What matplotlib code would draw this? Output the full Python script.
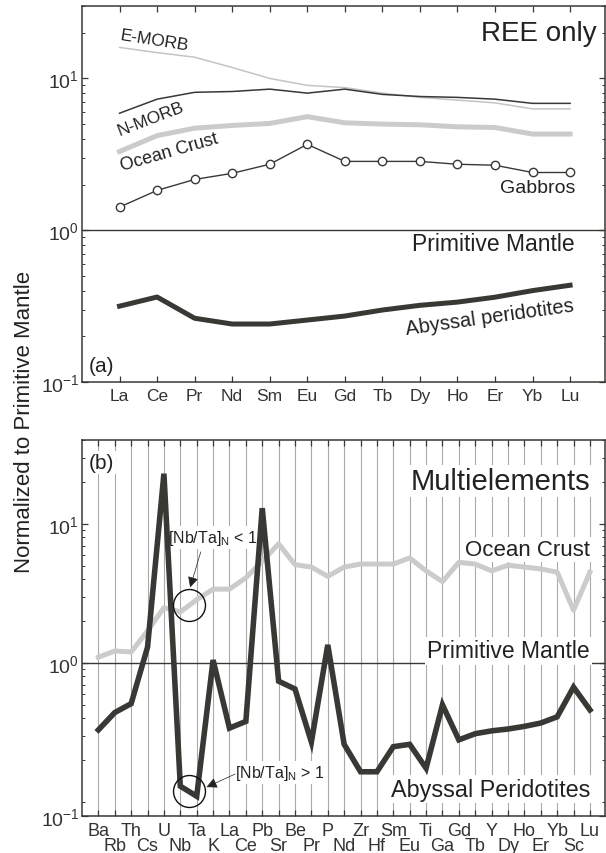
import numpy as np
from matplotlib import pyplot as plt
from matplotlib.ticker import FixedLocator, FixedFormatter, NullFormatter

plt.rcParams['font.family'] = ['Liberation Sans', 'DejaVu Sans']
plt.rcParams['mathtext.fontset'] = 'custom'
plt.rcParams['mathtext.rm'] = 'Liberation Sans'
plt.rcParams['mathtext.it'] = 'Liberation Sans:italic'
plt.rcParams['mathtext.bf'] = 'Liberation Sans:bold'

dark = '#383834'
grey = '#cbcbcb'

# (a) REE only, normalized to primitive mantle
ree = ['La', 'Ce', 'Pr', 'Nd', 'Sm', 'Eu', 'Gd', 'Tb', 'Dy', 'Ho', 'Er', 'Yb', 'Lu']
e_morb = [16.0, 14.8, 13.8, 11.8, 10.0, 9.0, 8.7, 8.0, 7.5, 7.2, 6.9, 6.3, 6.3]
n_morb = [5.9, 7.3, 8.1, 8.2, 8.5, 8.0, 8.5, 7.85, 7.6, 7.5, 7.3, 6.85, 6.85]
crust_ree = [3.3, 4.2, 4.7, 4.9, 5.05, 5.6, 5.1, 5.0, 4.95, 4.8, 4.75, 4.3, 4.3]
gabbros = [1.42, 1.83, 2.16, 2.37, 2.72, 3.68, 2.84, 2.84, 2.84, 2.72, 2.68, 2.4, 2.4]
perid_ree = [0.316, 0.363, 0.263, 0.241, 0.241, 0.256, 0.272, 0.298, 0.32, 0.336, 0.362, 0.40, 0.434]

# (b) multielements
elems = ['Ba', 'Rb', 'Th', 'Cs', 'U', 'Nb', 'Ta', 'K', 'La', 'Ce', 'Pb', 'Sr', 'Be', 'Pr', 'P', 'Nd',
         'Zr', 'Hf', 'Sm', 'Eu', 'Ti', 'Ga', 'Gd', 'Tb', 'Y', 'Dy', 'Ho', 'Er', 'Yb', 'Sc', 'Lu']
crust_multi = [1.1, 1.22, 1.2, 1.7, 2.5, 2.33, 2.85, 3.4, 3.4, 4.1, 5.4, 7.2, 5.1, 4.9, 4.2, 4.9,
               5.15, 5.15, 5.15, 5.7, 4.6, 3.85, 5.3, 5.15, 4.6, 5.05, 4.9, 4.75, 4.5, 2.4, 4.5]
perid_multi = [0.33, 0.44, 0.51, 1.3, 23, 0.13, 0.11, 1.05, 0.34, 0.38, 13, 0.74, 0.65, 0.27, 1.35, 0.26,
               0.165, 0.165, 0.25, 0.26, 0.175, 0.5, 0.28, 0.31, 0.325, 0.335, 0.35, 0.37, 0.41, 0.67, 0.46]

fig = plt.figure(figsize=(6.06, 8.54), dpi=100)
ax1 = fig.add_axes([82/606, 1-383/854, 523/606, 376/854])
ax2 = fig.add_axes([82/606, 1-817/854, 523/606, 376/854])


def style(ax):
    for s in ax.spines.values():
        s.set_color(dark)
        s.set_linewidth(1.1)
    ax.tick_params(axis='both', which='both', direction='in', top=True, right=True, color=dark)
    ax.tick_params(axis='both', which='major', length=4.5, width=0.9)
    ax.tick_params(axis='both', which='minor', length=2.2, width=0.7)
    ax.tick_params(axis='x', which='both', labelsize=12.5, pad=4, labelcolor='#333333')
    ax.tick_params(axis='y', labelsize=14, pad=2, labelcolor='#333333')


# ---- panel (a)
x = np.arange(len(ree))
ax1.set_yscale('log')
ax1.axhline(1, color=dark, lw=1.0, zorder=1)
ax1.plot(x, e_morb, color='#c4c4c4', lw=1.1)
ax1.plot(x, n_morb, color=dark, lw=1.1)
ax1.plot(x, crust_ree, color=grey, lw=3.6)
ax1.plot(x, gabbros, color=dark, lw=1.0, marker='o', ms=6, mfc='white', mec=dark, mew=1.0)
ax1.plot(x, perid_ree, color=dark, lw=3.6)
ax1.set_xlim(-1, 12.93)
ax1.set_ylim(0.1, 30)
ax1.set_xticks(x)
ax1.set_xticklabels(ree)
style(ax1)

ax1.text(0.93, 17.8, 'E-MORB', fontsize=12.5, rotation=-9, ha='center', va='center', color='#222222')
ax1.text(0.82, 5.5, 'N-MORB', fontsize=12.5, rotation=21, ha='center', va='center', color='#222222')
ax1.text(1.33, 3.3, 'Ocean Crust', fontsize=13, rotation=16, ha='center', va='center', color='#222222')
ax1.text(12.13, 1.92, 'Gabbros', fontsize=14, ha='right', va='center', color='#222222')
ax1.text(12.72, 19.8, 'REE only', fontsize=20, ha='right', va='center', color='#222222')
ax1.text(12.13, 0.82, 'Primitive Mantle', fontsize=16.5, ha='right', va='center', color='#222222')
ax1.text(9.87, 0.268, 'Abyssal peridotites', fontsize=14.5, rotation=8, ha='center', va='center',
         color='#222222')
ax1.text(0.012, 0.045, '(a)', transform=ax1.transAxes, fontsize=15, ha='left', va='center',
         color='#222222')

# ---- panel (b)
xm = np.arange(len(elems))
ax2.set_yscale('log')
ax2.set_axisbelow(True)
ax2.axhline(1, color=dark, lw=1.0, zorder=1.2)
ax2.plot(xm, crust_multi, color=grey, lw=3.6, zorder=2)
ax2.plot(xm, perid_multi, color=dark, lw=4.0, solid_joinstyle='miter', zorder=3)
ybot, ytop = 0.0793, 40.2
ax2.set_xlim(-1, 30.92)
ax2.set_ylim(ybot, ytop)
# labels alternate in two rows: even elements on the upper row, odd ones on the lower
ax2.xaxis.set_major_locator(FixedLocator(xm[::2]))
ax2.xaxis.set_major_formatter(FixedFormatter(elems[::2]))
ax2.xaxis.set_minor_locator(FixedLocator(xm[1::2]))
ax2.xaxis.set_minor_formatter(FixedFormatter(elems[1::2]))
ax2.yaxis.set_major_locator(FixedLocator([ybot, 1, 10]))
ax2.yaxis.set_major_formatter(FixedFormatter([r'$10^{-1}$', r'$10^{0}$', r'$10^{1}$']))
ax2.yaxis.set_minor_locator(FixedLocator([0.1, 0.2, 0.3, 0.4, 0.5, 0.6, 0.7, 0.8, 0.9,
                                          2, 3, 4, 5, 6, 7, 8, 9, 20, 30, 40]))
ax2.yaxis.set_minor_formatter(NullFormatter())
style(ax2)
ax2.tick_params(axis='x', which='both', labelsize=13)
ax2.tick_params(axis='x', which='minor', length=4.5, width=0.9, pad=15)
ax2.grid(axis='x', which='both', color='#aaaaaa', lw=0.8)

box = dict(facecolor='white', edgecolor='none', pad=1.5)
ax2.text(30.0, 20.4, 'Multielements', fontsize=21, ha='right', va='center', color='#222222',
         bbox=box, zorder=1.5)
ax2.text(30.0, 6.6, 'Ocean Crust', fontsize=16, ha='right', va='center', color='#222222',
         bbox=box, zorder=1.5)
ax2.text(30.0, 1.22, 'Primitive Mantle', fontsize=16.5, ha='right', va='center', color='#222222',
         bbox=box, zorder=1.5)
ax2.text(30.0, 0.124, 'Abyssal Peridotites', fontsize=16.8, ha='right', va='center', color='#222222',
         bbox=box, zorder=1.5)
ax2.text(0.012, 0.94, '(b)', transform=ax2.transAxes, fontsize=15, ha='left', va='center',
         color='#222222', bbox=box, zorder=1.5)

# Nb/Ta annotations
ax2.text(7.0, 8.0, r'[Nb/Ta]$_{\mathrm{N}}$ < 1', fontsize=11.5, ha='center', va='center',
         color='#222222', bbox=box, zorder=1.5)
ax2.text(11.1, 0.162, r'[Nb/Ta]$_{\mathrm{N}}$ > 1', fontsize=11.5, ha='center', va='center',
         color='#222222', bbox=box, zorder=1.5)
ax2.plot([5.55, 5.55], [2.61, 0.12], ls='none', marker='o', ms=23, mfc='none', mec='#111111',
         mew=1.0, zorder=4)
arrow = dict(arrowstyle='-|>', color='#222222', lw=0.5, mutation_scale=16,
             shrinkA=0, shrinkB=0)
ax2.annotate('', xy=(5.6, 3.5), xytext=(6.25, 6.3), arrowprops=arrow, zorder=4)
ax2.annotate('', xy=(6.6, 0.128), xytext=(8.35, 0.159), arrowprops=arrow, zorder=4)

fig.text(25/606, 1-422/854, 'Normalized to Primitive Mantle', rotation=90, ha='center',
         va='center', fontsize=16, color='#222222')

plt.savefig('out.png', dpi=100)
